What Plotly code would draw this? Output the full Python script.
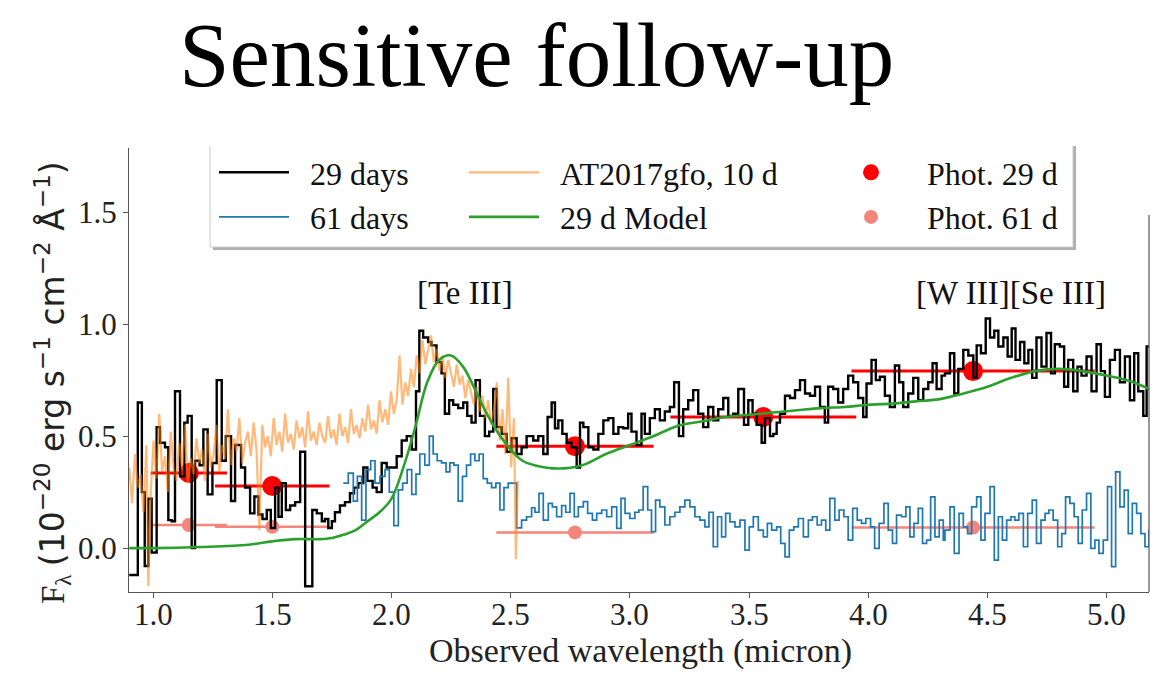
import plotly.graph_objects as go

# ---------------- data ----------------
# 29 days spectrum: left bin edges (micron) and flux
spec29_x = [0.900, 0.936, 0.953, 0.965, 0.980, 0.994, 1.015, 1.029, 1.050, 1.064, 1.078, 1.092, 1.113, 1.131,
            1.145, 1.162, 1.176, 1.195, 1.211, 1.229, 1.249, 1.267, 1.288, 1.305, 1.327, 1.344, 1.369, 1.386,
            1.407, 1.425, 1.442, 1.459, 1.477, 1.494, 1.512, 1.526, 1.540, 1.557, 1.575, 1.596, 1.617, 1.638,
            1.668, 1.687, 1.708, 1.721, 1.735, 1.750, 1.763, 1.784, 1.805, 1.826, 1.843, 1.861, 1.882, 1.899,
            1.921, 1.938, 1.959, 1.980, 2.001, 2.022, 2.043, 2.064, 2.085, 2.103, 2.117, 2.133, 2.154, 2.168,
            2.189, 2.210, 2.224, 2.242, 2.259, 2.280, 2.301, 2.318, 2.336, 2.353, 2.371, 2.392, 2.410, 2.427,
            2.441, 2.462, 2.483, 2.504, 2.525, 2.546, 2.567, 2.595, 2.616, 2.637, 2.655, 2.672, 2.686, 2.700,
            2.717, 2.735, 2.756, 2.777, 2.791, 2.805, 2.826, 2.847, 2.868, 2.889, 2.910, 2.931, 2.952, 2.972,
            2.993, 3.007, 3.028, 3.049, 3.063, 3.084, 3.105, 3.126, 3.147, 3.168, 3.186, 3.206, 3.224, 3.245,
            3.266, 3.287, 3.308, 3.329, 3.350, 3.371, 3.392, 3.413, 3.434, 3.455, 3.479, 3.497, 3.515, 3.532,
            3.553, 3.567, 3.588, 3.602, 3.616, 3.630, 3.651, 3.672, 3.693, 3.714, 3.735, 3.756, 3.777, 3.798,
            3.818, 3.832, 3.853, 3.874, 3.895, 3.916, 3.937, 3.958, 3.979, 3.993, 4.014, 4.032, 4.049, 4.070,
            4.091, 4.112, 4.130, 4.147, 4.168, 4.189, 4.210, 4.231, 4.252, 4.270, 4.287, 4.308, 4.322, 4.343,
            4.361, 4.378, 4.399, 4.420, 4.441, 4.455, 4.473, 4.493, 4.511, 4.529, 4.546, 4.567, 4.585, 4.602,
            4.618, 4.637, 4.655, 4.672, 4.688, 4.706, 4.727, 4.748, 4.767, 4.783, 4.804, 4.822, 4.839, 4.860,
            4.878, 4.895, 4.916, 4.937, 4.958, 4.976, 4.993, 5.014, 5.035, 5.056, 5.077, 5.098, 5.116, 5.133,
            5.154, 5.168, 5.194]
spec29_y = [-0.12, 0.65, 0.25, -0.08, 0.22, -0.02, 0.54, 0.47, 0.45, 0.125, 0.12, 0.70, 0.32, 0.56,
            0.59, 0.00, 0.39, 0.37, 0.53, 0.24, 0.38, 0.75, 0.39, 0.50, 0.21, 0.46, 0.36, 0.27,
            0.155, 0.23, 0.15, 0.13, 0.17, 0.09, 0.27, 0.14, 0.29, 0.17, 0.19, 0.205, 0.43, -0.17,
            0.17, 0.155, 0.12, 0.13, 0.09, 0.12, 0.16, 0.19, 0.205, 0.245, 0.27, 0.29, 0.36, 0.30,
            0.27, 0.25, 0.38, 0.36, 0.36, 0.41, 0.48, 0.50, 0.44, 0.70, 0.97, 0.94, 0.92, 0.905,
            0.83, 0.78, 0.60, 0.66, 0.64, 0.625, 0.65, 0.59, 0.56, 0.75, 0.59, 0.50, 0.52, 0.71,
            0.54, 0.51, 0.43, 0.49, 0.42, 0.45, 0.50, 0.48, 0.50, 0.42, 0.585, 0.65, 0.535, 0.57,
            0.51, 0.47, 0.45, 0.36, 0.56, 0.54, 0.45, 0.44, 0.51, 0.57, 0.58, 0.51, 0.54, 0.535,
            0.60, 0.52, 0.46, 0.60, 0.51, 0.58, 0.62, 0.57, 0.61, 0.63, 0.74, 0.50, 0.62, 0.66,
            0.705, 0.60, 0.54, 0.63, 0.57, 0.62, 0.67, 0.59, 0.60, 0.71, 0.55, 0.66, 0.60, 0.55,
            0.47, 0.58, 0.50, 0.51, 0.56, 0.60, 0.68, 0.67, 0.705, 0.75, 0.69, 0.68, 0.72, 0.63,
            0.56, 0.72, 0.71, 0.65, 0.71, 0.77, 0.74, 0.67, 0.585, 0.735, 0.84, 0.75, 0.765, 0.68,
            0.63, 0.815, 0.74, 0.63, 0.69, 0.76, 0.66, 0.71, 0.74, 0.825, 0.71, 0.77, 0.78, 0.87,
            0.69, 0.80, 0.885, 0.86, 0.76, 0.905, 0.87, 1.025, 0.94, 0.97, 0.90, 0.94, 0.855, 0.98,
            0.84, 0.92, 0.825, 0.885, 0.76, 0.94, 0.81, 0.96, 0.78, 0.91, 0.90, 0.72, 0.84, 0.70,
            0.81, 0.77, 0.855, 0.70, 0.91, 0.79, 0.675, 0.84, 0.885, 0.74, 0.855, 0.66, 0.87, 0.70,
            0.59, 0.90, 0.90]

# 61 days spectrum: left bin edges (micron) and flux
spec61_x = [1.798, 1.819, 1.840, 1.857, 1.875, 1.893, 1.913, 1.931, 1.952, 1.973, 1.991, 2.010, 2.029, 2.047,
            2.066, 2.085, 2.103, 2.119, 2.140, 2.159, 2.175, 2.192, 2.210, 2.229, 2.245, 2.262, 2.280, 2.298,
            2.315, 2.332, 2.350, 2.368, 2.385, 2.402, 2.420, 2.438, 2.455, 2.472, 2.490, 2.508, 2.525, 2.546,
            2.567, 2.588, 2.602, 2.619, 2.637, 2.658, 2.675, 2.693, 2.714, 2.731, 2.749, 2.767, 2.784, 2.805,
            2.823, 2.843, 2.861, 2.882, 2.903, 2.924, 2.945, 2.963, 2.980, 3.000, 3.021, 3.038, 3.056, 3.075,
            3.091, 3.108, 3.126, 3.147, 3.168, 3.189, 3.210, 3.231, 3.252, 3.273, 3.294, 3.315, 3.332, 3.350,
            3.368, 3.385, 3.402, 3.420, 3.441, 3.462, 3.483, 3.501, 3.518, 3.539, 3.560, 3.577, 3.595, 3.616,
            3.633, 3.651, 3.669, 3.688, 3.707, 3.728, 3.749, 3.766, 3.786, 3.804, 3.822, 3.839, 3.860, 3.878,
            3.898, 3.916, 3.935, 3.954, 3.972, 3.990, 4.010, 4.027, 4.046, 4.066, 4.084, 4.102, 4.119, 4.140,
            4.158, 4.175, 4.192, 4.210, 4.228, 4.245, 4.262, 4.280, 4.298, 4.315, 4.322, 4.343, 4.361, 4.381,
            4.399, 4.417, 4.434, 4.455, 4.473, 4.490, 4.511, 4.529, 4.546, 4.563, 4.581, 4.599, 4.615, 4.632,
            4.651, 4.669, 4.688, 4.706, 4.725, 4.742, 4.758, 4.776, 4.795, 4.812, 4.828, 4.846, 4.864, 4.881,
            4.898, 4.916, 4.934, 4.951, 4.968, 4.986, 5.004, 5.021, 5.038, 5.056, 5.074, 5.091, 5.108, 5.126,
            5.144, 5.161, 5.178, 5.194]
spec61_y = [0.29, 0.335, 0.21, 0.32, 0.125, 0.35, 0.39, 0.29, 0.32, 0.35, 0.25, 0.10, 0.26, 0.29,
            0.35, 0.24, 0.33, 0.42, 0.37, 0.50, 0.42, 0.39, 0.38, 0.34, 0.38, 0.37, 0.21, 0.32,
            0.37, 0.42, 0.39, 0.42, 0.31, 0.29, 0.27, 0.29, 0.17, 0.27, 0.29, 0.29, 0.09, 0.125,
            0.14, 0.18, 0.16, 0.244, 0.125, 0.20, 0.184, 0.14, 0.19, 0.16, 0.244, 0.14, 0.184, 0.207,
            0.155, 0.125, 0.155, 0.17, 0.14, 0.184, 0.088, 0.222, 0.155, 0.132, 0.16, 0.17, 0.274, 0.17,
            0.073, 0.214, 0.184, 0.103, 0.14, 0.16, 0.184, 0.214, 0.184, 0.14, 0.125, 0.095, 0.16, 0.006,
            0.14, 0.05, 0.155, 0.117, 0.095, 0.125, -0.009, 0.095, 0.14, 0.08, 0.05, 0.11, 0.08, 0.095,
            0.021, -0.039, 0.08, 0.095, 0.132, 0.05, 0.125, 0.14, 0.103, 0.125, 0.08, 0.222, 0.125, 0.17,
            0.14, 0.036, 0.177, 0.125, 0.11, 0.132, 0.095, -0.001, 0.11, 0.20, 0.08, 0.021, 0.147, 0.14,
            0.184, 0.05, 0.11, 0.177, 0.021, 0.036, 0.229, 0.05, 0.125, 0.036, 0.08, 0.184, -0.024, 0.155,
            0.095, 0.065, 0.184, 0.229, 0.036, 0.155, 0.274, -0.054, 0.14, 0.036, 0.125, 0.14, 0.125, 0.155,
            0.006, 0.155, 0.214, 0.021, 0.125, 0.155, 0.17, 0.125, 0.006, 0.065, 0.229, 0.20, 0.14, 0.021,
            0.17, 0.244, -0.001, 0.036, -0.024, 0.036, 0.274, -0.083, 0.34, 0.184, 0.259, 0.065, 0.20, 0.155,
            0.065, 0.006, 0.08, 0.08]

# AT2017gfo at 10 d (scaled)
kn_x = [0.900, 0.912, 0.924, 0.936, 0.948, 0.960, 0.972, 0.980, 0.990, 1.002, 1.014, 1.026, 1.038, 1.050,
        1.062, 1.074, 1.086, 1.098, 1.110, 1.122, 1.134, 1.146, 1.158, 1.170, 1.182, 1.194, 1.206, 1.218,
        1.230, 1.242, 1.254, 1.266, 1.278, 1.290, 1.302, 1.314, 1.326, 1.338, 1.350, 1.362, 1.374, 1.386,
        1.398, 1.410, 1.422, 1.434, 1.446, 1.458, 1.470, 1.482, 1.494, 1.506, 1.518, 1.530, 1.542, 1.554,
        1.566, 1.578, 1.590, 1.602, 1.614, 1.626, 1.638, 1.650, 1.662, 1.674, 1.686, 1.698, 1.710, 1.722,
        1.734, 1.746, 1.758, 1.770, 1.782, 1.794, 1.806, 1.818, 1.830, 1.842, 1.854, 1.866, 1.878, 1.890,
        1.902, 1.914, 1.926, 1.938, 1.950, 1.962, 1.974, 1.986, 1.998, 2.010, 2.022, 2.034, 2.046, 2.058,
        2.070, 2.082, 2.094, 2.106, 2.118, 2.130, 2.142, 2.154, 2.166, 2.178, 2.190, 2.202, 2.214, 2.226,
        2.238, 2.250, 2.262, 2.274, 2.286, 2.298, 2.310, 2.322, 2.334, 2.346, 2.358, 2.370, 2.382, 2.394,
        2.406, 2.418, 2.430, 2.442, 2.454, 2.466, 2.478, 2.490, 2.502, 2.514, 2.522, 2.530]
kn_y = [0.36, 0.20, 0.42, 0.27, 0.33, 0.16, 0.46, -0.17, 0.24, 0.48, 0.31, 0.60, 0.34, 0.41,
        0.25, 0.52, 0.36, 0.30, 0.47, 0.35, 0.55, 0.29, 0.40, 0.33, 0.49, 0.38, 0.44, 0.30,
        0.51, 0.36, 0.42, 0.55, 0.34, 0.46, 0.40, 0.62, 0.37, 0.49, 0.43, 0.58, 0.38, 0.47,
        0.52, 0.41, 0.56, 0.44, 0.08, 0.55, 0.45, 0.50, 0.41, 0.58, 0.46, 0.52, 0.43, 0.60,
        0.47, 0.51, 0.44, 0.57, 0.49, 0.54, 0.45, 0.61, 0.48, 0.52, 0.46, 0.56, 0.50, 0.47,
        0.59, 0.49, 0.53, 0.46, 0.60, 0.50, 0.54, 0.47, 0.62, 0.51, 0.55, 0.49, 0.58, 0.52,
        0.64, 0.53, 0.57, 0.51, 0.66, 0.56, 0.62, 0.55, 0.70, 0.60, 0.66, 0.86, 0.64, 0.74,
        0.68, 0.80, 0.72, 0.86, 0.78, 0.93, 0.82, 0.88, 0.95, 0.83, 0.89, 0.79, 0.86, 0.76,
        0.84, 0.78, 0.72, 0.82, 0.73, 0.77, 0.67, 0.75, 0.70, 0.64, 0.72, 0.61, 0.68, 0.58,
        0.66, 0.55, 0.62, 0.74, 0.48, 0.62, 0.42, 0.76, 0.36, 0.58, -0.05, 0.30]

# 29 d model
model_x = [0.90, 1.00, 1.20, 1.40, 1.50, 1.60, 1.70, 1.75, 1.80, 1.85, 1.90, 1.95, 2.00, 2.05, 2.10,
           2.15, 2.20, 2.25, 2.30, 2.35, 2.40, 2.45, 2.50, 2.55, 2.60, 2.70, 2.80, 2.90, 3.00, 3.10,
           3.20, 3.30, 3.40, 3.50, 3.60, 3.70, 3.80, 3.90, 4.00, 4.10, 4.20, 4.30, 4.40, 4.50, 4.60,
           4.70, 4.80, 4.90, 5.00, 5.10, 5.18]
model_y = [0.00, 0.00, 0.005, 0.015, 0.03, 0.04, 0.04, 0.045, 0.06, 0.08, 0.12, 0.16, 0.22, 0.36, 0.54,
           0.74, 0.84, 0.86, 0.81, 0.71, 0.60, 0.51, 0.44, 0.39, 0.37, 0.355, 0.37, 0.42, 0.46, 0.50,
           0.545, 0.565, 0.585, 0.595, 0.605, 0.615, 0.625, 0.63, 0.64, 0.645, 0.655, 0.665, 0.69, 0.72, 0.76,
           0.79, 0.80, 0.79, 0.77, 0.745, 0.71]

# photometry
phot29_x = [1.15, 1.50, 2.77, 3.56, 4.44]
phot29_y = [0.335, 0.277, 0.455, 0.585, 0.79]
phot29_xerr = [0.16, 0.24, 0.33, 0.39, 0.51]
phot61_x = [1.15, 1.50, 2.77, 4.44]
phot61_y = [0.103, 0.095, 0.07, 0.092]
phot61_xerr = [0.16, 0.24, 0.33, 0.51]

line_labels = ["[Te III]", "[W III][Se III]"]
line_label_x = [2.31, 4.60]
line_label_y = [1.14, 1.14]

x_ticks = [1.0, 1.5, 2.0, 2.5, 3.0, 3.5, 4.0, 4.5, 5.0]
x_tick_text = ["1.0", "1.5", "2.0", "2.5", "3.0", "3.5", "4.0", "4.5", "5.0"]
y_ticks = [0.0, 0.5, 1.0, 1.5]

assert len(spec29_x) == len(spec29_y) and len(spec61_x) == len(spec61_y)
assert len(kn_x) == len(kn_y) and len(model_x) == len(model_y)

# ---------------- figure ----------------
SERIF = "Liberation Serif, Times New Roman, serif"
W, H = 1153, 678
ML, MR, MT, MB = 129, 4, 148, 86
PW, PH = W - ML - MR, H - MT - MB

def px(xp):
    return (xp - ML) / PW

def py(yp):
    return (H - MB - yp) / PH

NB = "\u00a0\u00a0"

fig = go.Figure()

fig.add_trace(go.Scatter(x=phot29_x, y=phot29_y, mode="markers", name=NB + "Phot. 29 d",
                         marker=dict(color="#ff0000", size=20),
                         error_x=dict(type="data", array=phot29_xerr, color="#ff0000", thickness=3, width=0),
                         legend="legend3", legendrank=1))
fig.add_trace(go.Scatter(x=phot61_x, y=phot61_y, mode="markers", name=NB + "Phot. 61 d",
                         marker=dict(color="#f4857b", size=14),
                         error_x=dict(type="data", array=phot61_xerr, color="#f4857b", thickness=2.5, width=0),
                         legend="legend3", legendrank=2))
fig.add_trace(go.Scatter(x=spec29_x, y=spec29_y, mode="lines", name=NB + "29 days",
                         line=dict(color="#000000", width=2.4, shape="hv"),
                         legend="legend", legendrank=1))
fig.add_trace(go.Scatter(x=spec61_x, y=spec61_y, mode="lines", name=NB + "61 days",
                         line=dict(color="#1f77b4", width=1.7, shape="hv"),
                         legend="legend", legendrank=2))
fig.add_trace(go.Scatter(x=kn_x, y=kn_y, mode="lines", name=NB + "AT2017gfo, 10 d",
                         line=dict(color="rgba(255,127,14,0.55)", width=2.2),
                         legend="legend2", legendrank=1))
fig.add_trace(go.Scatter(x=model_x, y=model_y, mode="lines", name=NB + "29 d Model",
                         line=dict(color="#2ca02c", width=2.6, shape="spline"),
                         legend="legend2", legendrank=2))

# legend frame with shadow
bx0, bx1, by0, by1 = 210, 1073, 247, 146
fig.add_shape(type="rect", xref="paper", yref="paper", x0=px(bx0 + 3), x1=px(bx1 + 3), y0=py(by0 + 3),
              y1=py(by1), fillcolor="rgba(110,110,110,0.55)", line_width=0, layer="below")
fig.add_shape(type="rect", xref="paper", yref="paper", x0=px(bx0), x1=px(bx1), y0=py(by0), y1=py(by1),
              fillcolor="white", line_width=0, layer="below")
fig.add_shape(type="path", xref="paper", yref="paper",
              path=f"M {px(bx0)},{py(by1)} L {px(bx0)},{py(by0)} L {px(bx1)},{py(by0)} L {px(bx1)},{py(by1)}",
              line=dict(color="#cccccc", width=1), layer="below")
# right spine (visible part)
fig.add_shape(type="line", xref="paper", yref="paper", x0=1, x1=1, y0=0, y1=py(215),
              line=dict(color="#555555", width=1.2))

for t, lx, ly in zip(line_labels, line_label_x, line_label_y):
    fig.add_annotation(x=lx, y=ly, text=t, showarrow=False, xref="x", yref="y",
                       font=dict(family=SERIF, size=33, color="#111111"))

# x tick labels
for v, t in zip(x_ticks, x_tick_text):
    fig.add_annotation(x=v, y=py(614), xref="x", yref="paper", text=t, showarrow=False,
                       font=dict(family=SERIF, size=31, color="#222222"), xanchor="center", yanchor="middle")

fig.add_annotation(x=px(640), y=py(651), xref="paper", yref="paper", text="Observed wavelength (micron)",
                   showarrow=False, font=dict(family=SERIF, size=34, color="#222222"),
                   xanchor="center", yanchor="middle")

fig.add_annotation(x=px(536), y=py(55), xref="paper", yref="paper", text="Sensitive follow-up",
                   showarrow=False, font=dict(family=SERIF, size=91, color="#000000"),
                   xanchor="center", yanchor="middle")

ylab = ("F<sub>λ</sub> <span style=\"font-family:DejaVu Sans\">(10<sup>−20</sup> erg s<sup>−1</sup> "
        "cm<sup>−2</sup> Å<sup>−1</sup>)</span>")
fig.add_annotation(x=px(52), y=py(383), xref="paper", yref="paper", text=ylab, textangle=-90,
                   showarrow=False, font=dict(family=SERIF, size=33, color="#222222"),
                   xanchor="center", yanchor="middle")

leg_common = dict(font=dict(family=SERIF, size=32, color="#111111"), bgcolor="rgba(0,0,0,0)",
                  borderwidth=0, xanchor="left", yanchor="top", orientation="v",
                  itemwidth=70, tracegroupgap=0, traceorder="normal")
fig.update_layout(
    width=W, height=H,
    margin=dict(l=ML, r=MR, t=MT, b=MB),
    paper_bgcolor="white", plot_bgcolor="white",
    showlegend=True,
    legend=dict(x=px(214), y=py(145), **leg_common),
    legend2=dict(x=px(464), y=py(145), **leg_common),
    legend3=dict(x=px(831), y=py(145), **leg_common),
    xaxis=dict(range=[0.899, 5.178], tickvals=x_ticks, showticklabels=False, showgrid=False, zeroline=False,
               showline=True, linecolor="#555555", linewidth=1.2, ticks="outside", ticklen=5,
               tickcolor="#555555"),
    yaxis=dict(range=[-0.196, 1.786], tickvals=y_ticks, tickformat=".1f", showgrid=False, zeroline=False,
               showline=True, linecolor="#555555", linewidth=1.2, ticks="outside", ticklen=5,
               tickcolor="#555555", tickfont=dict(family=SERIF, size=31, color="#222222")),
)

fig.write_html("out.html")
